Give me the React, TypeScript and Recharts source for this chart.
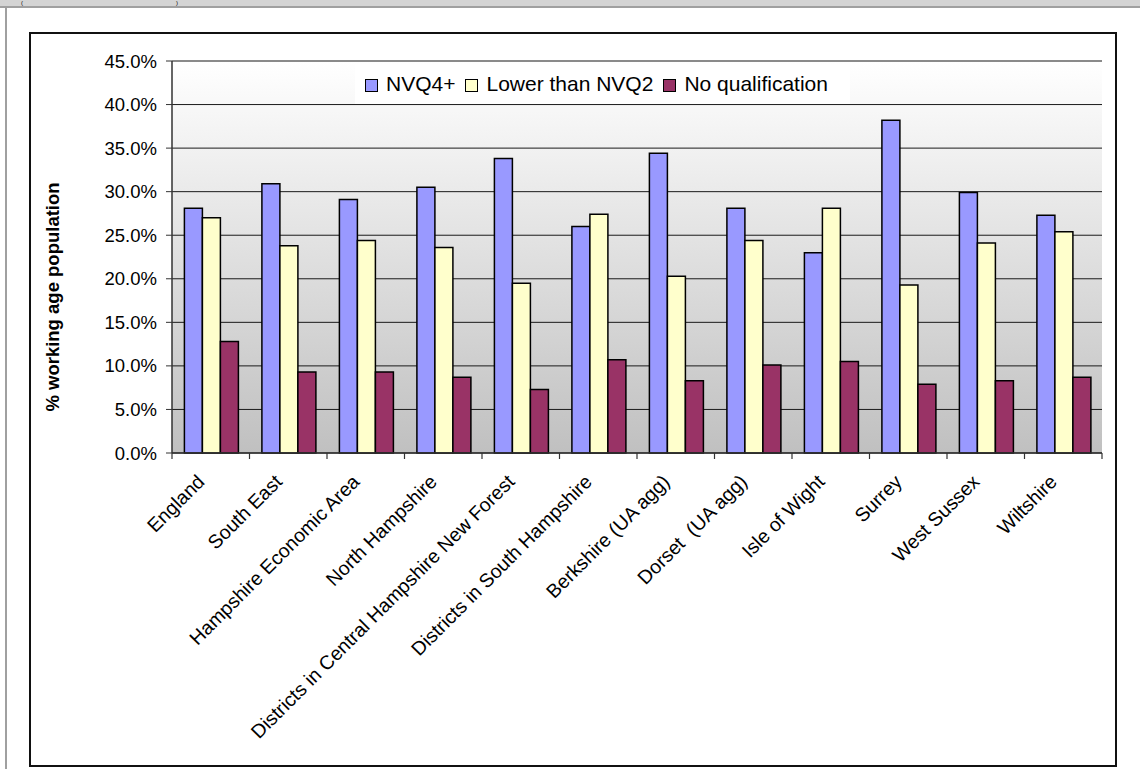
import React from 'react';
import { BarChart, Bar, XAxis, YAxis, CartesianGrid, ReferenceLine, Label } from 'recharts';

const categories = [
  'England',
  'South East',
  'Hampshire Economic Area',
  'North Hampshire',
  'Districts in Central Hampshire New Forest',
  'Districts in South Hampshire',
  'Berkshire (UA agg)',
  'Dorset  (UA agg)',
  'Isle of Wight',
  'Surrey',
  'West Sussex',
  'Wiltshire',
];
const nvq4Plus = [28.1, 30.9, 29.1, 30.5, 33.8, 26.0, 34.4, 28.1, 23.0, 38.2, 29.9, 27.3];
const lowerThanNvq2 = [27.0, 23.8, 24.4, 23.6, 19.5, 27.4, 20.3, 24.4, 28.1, 19.3, 24.1, 25.4];
const noQualification = [12.8, 9.3, 9.3, 8.7, 7.3, 10.7, 8.3, 10.1, 10.5, 7.9, 8.3, 8.7];
const yTicks = [0, 5, 10, 15, 20, 25, 30, 35, 40, 45];
const seriesNames = ['NVQ4+', 'Lower than NVQ2', 'No qualification'];
const seriesColors = ['#9999ff', '#ffffcc', '#993366'];
const yLabel = '% working age population';

const data = categories.map((c, i) => ({
  name: c,
  nvq4: nvq4Plus[i],
  lower: lowerThanNvq2[i],
  noq: noQualification[i],
}));
const keys = ['nvq4', 'lower', 'noq'];

const W = 1140;
const H = 769;
const PLOT_LEFT = 172;
const PLOT_RIGHT = 1102;
const PLOT_TOP = 61;
const PLOT_BOTTOM = 453;
const BAND = (PLOT_RIGHT - PLOT_LEFT) / categories.length;
const FONT = '"Liberation Sans", Arial, Helvetica, sans-serif';

const XTick = (props: any) => {
  const { x, y, payload, index } = props;
  const half = BAND / 2;
  const tx = x - 5;
  const ty = y + 30;
  return (
    <g>
      <line x1={x - half} x2={x - half} y1={y} y2={y + 6} stroke="#333" strokeWidth={1.2} />
      {index === categories.length - 1 && (
        <line x1={x + half} x2={x + half} y1={y} y2={y + 6} stroke="#333" strokeWidth={1.2} />
      )}
      <text
        x={tx}
        y={ty}
        textAnchor="end"
        fontSize={19.5}
        fontFamily={FONT}
        fill="#000"
        style={{ whiteSpace: 'pre' }}
        transform={`rotate(-45 ${tx} ${ty})`}
      >
        {payload.value}
      </text>
    </g>
  );
};

const YLabel = () => (
  <text
    x={52}
    y={297}
    textAnchor="middle"
    dominantBaseline="central"
    fontSize={18.5}
    fontWeight="bold"
    fontFamily={FONT}
    fill="#000"
    transform="rotate(-90 52 297)"
  >
    {yLabel}
  </text>
);

export default function App() {
  return (
    <div style={{ position: 'absolute', left: 0, top: 0, width: W, height: H, background: '#fff', overflow: 'hidden', fontFamily: FONT }}>
      <svg width={0} height={0} style={{ position: 'absolute' }}>
        <defs>
          <linearGradient id="plotGrad" x1="0" y1="0" x2="0" y2="1">
            <stop offset="0" stopColor="#ffffff" />
            <stop offset="1" stopColor="#c0c0c0" />
          </linearGradient>
        </defs>
      </svg>
      <div style={{ position: 'absolute', left: 0, top: 0, width: W, height: 6, background: '#d4d4d4' }}>
        <span style={{ position: 'absolute', left: 21, top: 0, fontSize: 6, lineHeight: '6px', color: '#000' }}>(</span>
        <span style={{ position: 'absolute', left: 176, top: 0, fontSize: 6, lineHeight: '6px', color: '#000' }}>)</span>
      </div>
      <div style={{ position: 'absolute', left: 0, top: 6, width: W, height: 2, background: '#a0a0a0' }} />
      <div style={{ position: 'absolute', left: 5, top: 6, width: 2, height: H - 6, background: '#a0a0a0' }} />
      <div style={{ position: 'absolute', left: 29, top: 32, width: 1088, height: 735, border: '2px solid #111', boxSizing: 'border-box' }} />
      <div style={{ position: 'absolute', left: 0, top: 0 }}>
        <BarChart
          width={W}
          height={H}
          data={data}
          margin={{ top: PLOT_TOP, right: W - PLOT_RIGHT, bottom: 0, left: 0 }}
          barCategoryGap="16%"
          barGap={0}
        >
          <CartesianGrid vertical={false} stroke="#1a1a1a" strokeWidth={1} fill="url(#plotGrad)" />
          <XAxis
            dataKey="name"
            height={H - PLOT_BOTTOM}
            interval={0}
            tickSize={0}
            tickMargin={0}
            tickLine={false}
            axisLine={{ stroke: '#333', strokeWidth: 1.5 }}
            tick={<XTick />}
          />
          <YAxis
            width={PLOT_LEFT}
            domain={[0, 45]}
            ticks={yTicks}
            interval={0}
            tickSize={6}
            tickMargin={9}
            tickLine={{ stroke: '#333' }}
            axisLine={{ stroke: '#333', strokeWidth: 1.5 }}
            tick={{ fontSize: 18.5, fill: '#000', fontFamily: FONT }}
            tickFormatter={(v: number) => `${v.toFixed(1)}%`}
          >
            <Label content={<YLabel />} />
          </YAxis>
          <YAxis
            yAxisId="right"
            orientation="right"
            width={0}
            domain={[0, 45]}
            tick={false}
            tickLine={false}
            axisLine={{ stroke: '#8a8a8a', strokeWidth: 1.5 }}
          />
          <ReferenceLine y={45} stroke="#8a8a8a" strokeWidth={1.5} />
          {keys.map((k, i) => (
            <Bar
              key={k}
              dataKey={k}
              name={seriesNames[i]}
              fill={seriesColors[i]}
              stroke="#000"
              strokeWidth={1.5}
              isAnimationActive={false}
            />
          ))}
        </BarChart>
      </div>
      <div
        style={{
          position: 'absolute',
          left: 355,
          top: 64,
          width: 495,
          height: 40,
          background: '#fff',
          display: 'flex',
          alignItems: 'center',
          paddingLeft: 10,
          boxSizing: 'border-box',
          fontSize: 21,
          color: '#000',
          whiteSpace: 'nowrap',
        }}
      >
        {seriesNames.map((n, i) => (
          <div key={n} style={{ display: 'flex', alignItems: 'center', marginRight: 10 }}>
            <span
              style={{
                display: 'inline-block',
                width: 11,
                height: 11,
                background: seriesColors[i],
                border: '1px solid #000',
                marginRight: 8,
                marginTop: 2,
              }}
            />
            <span>{n}</span>
          </div>
        ))}
      </div>
    </div>
  );
}
